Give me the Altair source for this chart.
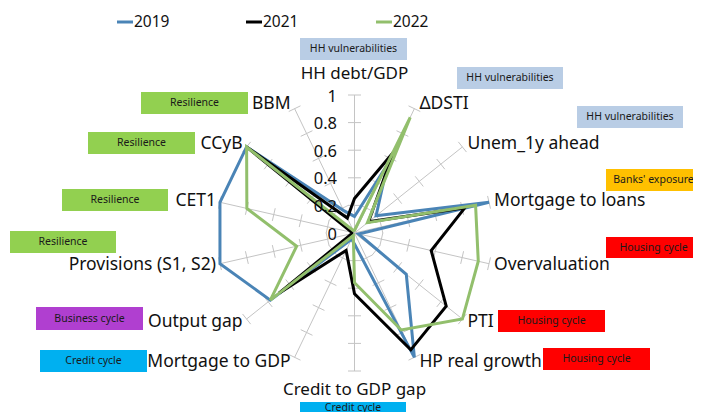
import altair as alt
import pandas as pd

# ---------------- data ----------------
categories = ["HH debt/GDP", "ΔDSTI", "Unem_1y ahead", "Mortgage to loans",
              "Overvaluation", "PTI", "HP real growth", "Credit to GDP gap",
              "Mortgage to GDP", "Output gap", "Provisions (S1, S2)", "CET1",
              "CCyB", "BBM"]
series_names = ["2019", "2021", "2022"]
v2019 = [0.12, 0.55, 0.20, 1.00, 0.03, 0.48, 1.00, 0.08, 0.05, 0.78, 1.00, 1.00, 1.00, 0.18]
v2021 = [0.25, 0.65, 0.13, 0.82, 0.57, 0.85, 0.94, 0.44, 0.14, 0.70, 0.02, 0.02, 1.00, 0.12]
v2022 = [0.02, 0.93, 0.12, 0.90, 0.92, 1.00, 0.78, 0.36, 0.02, 0.78, 0.43, 0.80, 1.00, 0.02]
tick_values = [0, 0.2, 0.4, 0.6, 0.8, 1]
tick_labels = ["0", "0.2", "0.4", "0.6", "0.8", "1"]
box_labels = ["HH vulnerabilities", "HH vulnerabilities", "HH vulnerabilities",
              "Banks' exposure", "Housing cycle", "Housing cycle", "Housing cycle",
              "Credit cycle", "Credit cycle", "Business cycle",
              "Resilience", "Resilience", "Resilience", "Resilience"]

# ---------------- styles / layout ----------------
series_colors = ["#4a84b6", "#000000", "#92bf6c"]
box_colors = ["#b9cde5", "#b9cde5", "#b9cde5", "#ffc000", "#ff0000", "#ff0000", "#ff0000",
              "#00b0f0", "#00b0f0", "#b03fd0", "#92d050", "#92d050", "#92d050", "#92d050"]
# box rectangles in page pixels: x1, y1, x2, y2
box_rects = [(300, 38, 407, 60), (457, 67, 563, 89), (577, 106, 683, 128),
             (606, 169, 705, 191), (606, 237, 705, 258), (498, 310, 605, 332),
             (543, 348, 650, 370), (300, 402, 406, 424), (40, 350, 147, 372),
             (36, 307, 143, 330), (10, 231, 116, 253), (62, 189, 168, 211),
             (88, 132, 195, 154), (141, 92, 248, 114)]
box_text_y = [None] * 7 + [407.5] + [None] * 6   # override for the box cut by the bottom edge
legend_x = [117, 246, 376]   # page px of legend symbol start
legend_y = 22

FONT = "Noto Sans"
M = 8                      # page margin
W, H = 685, 404            # svg size
R = 138.0                  # radius in px
CX, CY = 354.5 - M, 233.0 - M
N = len(categories)

xs = alt.Scale(domain=[-CX / R, (W - CX) / R], nice=False, zero=False)
ys = alt.Scale(domain=[-(H - CY) / R, CY / R], nice=False, zero=False)
ANG = "2*PI*datum.i/%d" % N

# spokes
spokes = alt.Chart(pd.DataFrame({"i": list(range(N))})).transform_calculate(
    ang=ANG, x0="0", y0="0", x1="sin(datum.ang)", y1="cos(datum.ang)"
).mark_rule(color="#c4c4c4", strokeWidth=1).encode(
    x=alt.X("x0:Q", scale=xs, axis=None), y=alt.Y("y0:Q", scale=ys, axis=None),
    x2="x1:Q", y2="y1:Q")

# tick marks along spokes
tick_rows = [{"i": i, "t": t} for i in range(N) for t in tick_values[1:]]
h = 6.5 / R
ticks = alt.Chart(pd.DataFrame(tick_rows)).transform_calculate(
    ang=ANG,
    xa="datum.t*sin(datum.ang) - %f*cos(datum.ang)" % h,
    ya="datum.t*cos(datum.ang) + %f*sin(datum.ang)" % h,
    xb="datum.t*sin(datum.ang) + %f*cos(datum.ang)" % h,
    yb="datum.t*cos(datum.ang) - %f*sin(datum.ang)" % h,
).mark_rule(color="#c4c4c4", strokeWidth=1).encode(
    x=alt.X("xa:Q", scale=xs, axis=None), y=alt.Y("ya:Q", scale=ys, axis=None),
    x2="xb:Q", y2="yb:Q")

# series
rows = []
for name, vals in zip(series_names, [v2019, v2021, v2022]):
    for i, v in enumerate(vals):
        rows.append({"series": name, "i": i, "value": v})
lines = alt.Chart(pd.DataFrame(rows)).transform_calculate(
    ang=ANG, x="datum.value*sin(datum.ang)", y="datum.value*cos(datum.ang)"
).mark_line(strokeWidth=3, interpolate="linear-closed").encode(
    x=alt.X("x:Q", scale=xs, axis=None), y=alt.Y("y:Q", scale=ys, axis=None),
    color=alt.Color("series:N", scale=alt.Scale(domain=series_names, range=series_colors),
                    legend=None),
    detail="series:N", order="i:Q")

# category labels
cat_df = pd.DataFrame({"i": list(range(N)), "label": categories})
off = 5.0 / R
def cat_layer(cond, align, xexpr, yexpr, size=17.5):
    return alt.Chart(cat_df).transform_filter(cond).transform_calculate(
        ang=ANG, lx=xexpr, ly=yexpr
    ).mark_text(font=FONT, fontSize=size, align=align, baseline="middle", color="#111111").encode(
        x=alt.X("lx:Q", scale=xs, axis=None), y=alt.Y("ly:Q", scale=ys, axis=None),
        text="label:N")

lab_right = cat_layer("datum.i > 0 && datum.i < %d" % (N // 2), "left",
                      "sin(datum.ang) + %f" % off, "cos(datum.ang)*(1 + %f)" % off)
lab_left = cat_layer("datum.i > %d" % (N // 2), "right",
                     "sin(datum.ang) - %f" % (4.0 / R), "cos(datum.ang)*(1 + %f)" % off)
lab_top = cat_layer("datum.i == 0", "center", "0", "1 + %f" % (21.0 / R), size=17)
lab_bottom = cat_layer("datum.i == %d" % (N // 2), "center", "0", "-1 - %f" % (18.5 / R), size=17)

# radial tick labels
tl = alt.Chart(pd.DataFrame({"t": tick_values, "lab": tick_labels})).transform_calculate(
    lx="%f" % (-17.5 / R)
).mark_text(font=FONT, fontSize=16.5, align="right", baseline="middle", dy=1.5, color="#111111").encode(
    x=alt.X("lx:Q", scale=xs, axis=None), y=alt.Y("t:Q", scale=ys, axis=None), text="lab:N")

# annotation boxes (pixel coordinates)
bx = pd.DataFrame({
    "label": box_labels, "color": box_colors,
    "x1": [r[0] - M for r in box_rects], "y1": [r[1] - M for r in box_rects],
    "x2": [r[2] - M for r in box_rects], "y2": [r[3] - M for r in box_rects],
})
bx["xc"] = [(min(r[2], 701) + r[0]) / 2 - M for r in box_rects]
bx["yc"] = [((ov if ov is not None else (r[1] + r[3]) / 2)) - M
            for r, ov in zip(box_rects, box_text_y)]
rects = alt.Chart(bx).mark_rect().encode(
    x=alt.X("x1:Q", scale=None), x2="x2:Q", y=alt.Y("y1:Q", scale=None), y2="y2:Q",
    color=alt.Color("color:N", scale=None))
rtext = alt.Chart(bx).mark_text(font=FONT, fontSize=10.5, color="#1a1a1a", baseline="middle").encode(
    x=alt.X("xc:Q", scale=None), y=alt.Y("yc:Q", scale=None), text="label:N")

# legend (pixel coordinates)
lg = pd.DataFrame({"series": series_names, "color": series_colors,
                   "xa": [x - M for x in legend_x], "xb": [x + 16 - M for x in legend_x],
                   "xt": [x + 17 - M for x in legend_x], "y": [legend_y - M] * 3})
lg_sym = alt.Chart(lg).mark_rule(strokeWidth=3).encode(
    x=alt.X("xa:Q", scale=None), x2="xb:Q", y=alt.Y("y:Q", scale=None),
    color=alt.Color("color:N", scale=None))
lg_txt = alt.Chart(lg).mark_text(font=FONT, fontSize=15.5, align="left", baseline="middle",
                                 color="#111111").encode(
    x=alt.X("xt:Q", scale=None), y=alt.Y("y:Q", scale=None), text="series:N")

chart = alt.layer(spokes, ticks, lines, lab_right, lab_left, lab_top, lab_bottom, tl,
                  rects, rtext, lg_sym, lg_txt).properties(
    width=W, height=H, autosize=alt.AutoSizeParams(type="none"), padding=0
).configure_view(strokeWidth=0).resolve_scale(color="independent")

chart.save("out.html", embed_options={"renderer": "svg", "actions": False})
